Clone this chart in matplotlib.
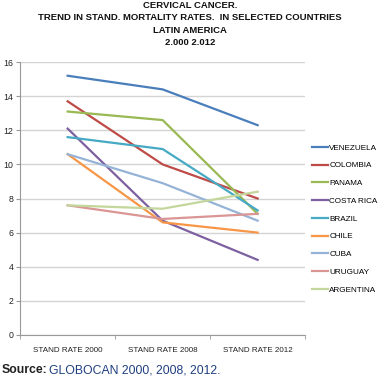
import matplotlib
matplotlib.use("Agg")
import matplotlib.pyplot as plt

categories = ["STAND RATE 2000", "STAND RATE 2008", "STAND RATE 2012"]
countries = ["VENEZUELA", "COLOMBIA", "PANAMA", "COSTA RICA", "BRAZIL",
             "CHILE", "CUBA", "URUGUAY", "ARGENTINA"]
venezuela = [15.2, 14.4, 12.3]
colombia = [13.7, 10.0, 8.0]
panama = [13.1, 12.6, 7.1]
costa_rica = [12.1, 6.7, 4.4]
brazil = [11.6, 10.9, 7.3]
chile = [10.6, 6.6, 6.0]
cuba = [10.6, 8.9, 6.7]
uruguay = [7.6, 6.8, 7.1]
argentina = [7.6, 7.4, 8.4]
series = [venezuela, colombia, panama, costa_rica, brazil, chile, cuba, uruguay, argentina]
colors = ["#4A7EBB", "#BE4B48", "#98B954", "#7D60A0", "#46AAC5",
          "#F79646", "#95B3D7", "#D99694", "#C3D69B"]

plt.rcParams['font.family'] = ['Liberation Sans', 'DejaVu Sans']

fig = plt.figure(figsize=(3.8, 3.81), dpi=100)
ax = fig.add_axes([0.053, 0.121, 0.75, 0.716])

x = range(len(categories))
for name, vals, c in zip(countries, series, colors):
    ax.plot(x, vals, color=c, lw=1.6, label=name)

ax.set_xlim(-0.5, 2.5)
ax.set_ylim(0, 16)
ax.set_yticks(range(0, 17, 2))
ax.set_xticks(list(x))
ax.set_xticklabels(categories)
ax.set_xticks([-0.5, 0.5, 1.5, 2.5], minor=True)
ax.tick_params(axis='x', which='major', length=0, labelsize=5.8, colors='#222222', pad=9)
ax.tick_params(axis='x', which='minor', length=3, color='#999999')
ax.tick_params(axis='y', length=3, labelsize=6.3, colors='#222222', pad=2, color='#999999')
ax.yaxis.grid(True, color='#D4D4D4', lw=1)
ax.set_axisbelow(True)
for s in ['top', 'right']:
    ax.spines[s].set_visible(False)
ax.spines['left'].set_color('#999999')
ax.spines['bottom'].set_color('#999999')

ax.legend(loc='upper left', bbox_to_anchor=(0.82, 0.622), bbox_transform=fig.transFigure,
          frameon=False, fontsize=5.9, handlelength=2.0, handletextpad=0.15,
          labelspacing=1.22, borderaxespad=0, borderpad=0)

title = ("CERVICAL CANCER.\nTREND IN STAND. MORTALITY RATES.  IN SELECTED COUNTRIES\n"
         "LATIN AMERICA\n2.000 2.012")
fig.text(0.5, 0.998, title, ha='center', va='top', fontsize=6.8, fontweight='bold',
         linespacing=1.5, color='#111111')

fig.text(0.005, 0.028, "Source:", fontsize=8.8, fontweight='bold', color='#222222', va='center')
fig.text(0.13, 0.028, "GLOBOCAN 2000, 2008, 2012.", fontsize=8.8, color='#1F3F7F', va='center')

fig.savefig("out.png", dpi=100)
